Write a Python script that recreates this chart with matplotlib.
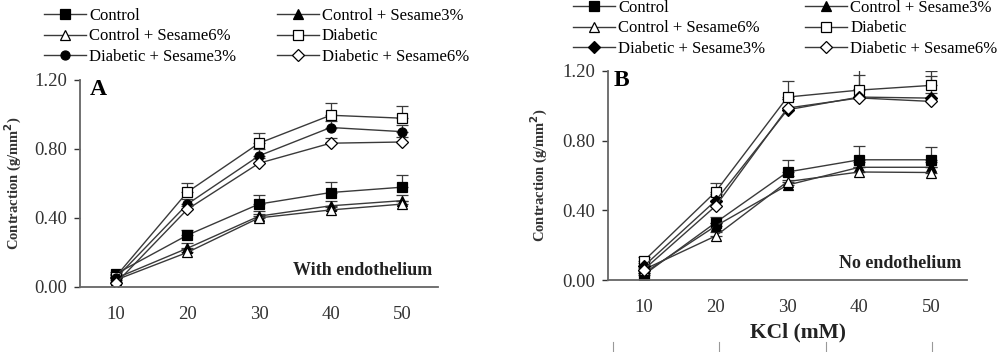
import matplotlib
matplotlib.use('Agg')
import matplotlib.pyplot as plt
from matplotlib.lines import Line2D
import numpy as np

plt.rcParams['font.family'] = ['Liberation Serif', 'DejaVu Serif']

kcl = [10, 20, 30, 40, 50]
series_names = ['Control', 'Control + Sesame3%', 'Control + Sesame6%',
                'Diabetic', 'Diabetic + Sesame3%', 'Diabetic + Sesame6%']

# panel A - with endothelium
a_control = [0.075, 0.30, 0.48, 0.547, 0.578]
a_control_s3 = [0.05, 0.224, 0.41, 0.47, 0.50]
a_control_s6 = [0.04, 0.20, 0.40, 0.446, 0.48]
a_diabetic = [0.06, 0.55, 0.833, 0.995, 0.978]
a_diabetic_s3 = [0.05, 0.48, 0.76, 0.924, 0.90]
a_diabetic_s6 = [0.02, 0.45, 0.717, 0.833, 0.84]
a_err_control = [0.01, 0.03, 0.05, 0.06, 0.07]
a_err_control_s3 = [0.01, 0.03, 0.03, 0.03, 0.03]
a_err_control_s6 = [0.01, 0.02, 0.02, 0.02, 0.02]
a_err_diabetic = [0.01, 0.055, 0.06, 0.07, 0.07]
a_err_diabetic_s3 = [0.01, 0.03, 0.04, 0.04, 0.04]
a_err_diabetic_s6 = [0.01, 0.02, 0.03, 0.03, 0.03]

# panel B - no endothelium
b_control = [0.03, 0.33, 0.62, 0.69, 0.69]
b_control_s3 = [0.04, 0.31, 0.545, 0.647, 0.647]
b_control_s6 = [0.06, 0.253, 0.565, 0.62, 0.617]
b_diabetic = [0.11, 0.507, 1.05, 1.09, 1.117]
b_diabetic_s3 = [0.08, 0.456, 0.977, 1.05, 1.044]
b_diabetic_s6 = [0.06, 0.425, 0.987, 1.045, 1.025]
b_err_control = [0.01, 0.03, 0.07, 0.08, 0.076]
b_err_control_s3 = [0.01, 0.02, 0.03, 0.03, 0.03]
b_err_control_s6 = [0.01, 0.02, 0.03, 0.03, 0.03]
b_err_diabetic = [0.02, 0.05, 0.09, 0.13, 0.08]
b_err_diabetic_s3 = [0.02, 0.04, 0.06, 0.128, 0.126]
b_err_diabetic_s6 = [0.02, 0.03, 0.05, 0.05, 0.05]

yticks = [0.0, 0.4, 0.8, 1.2]

LINE = '#3a3a3a'
TXT = '#333333'


def draw_panel(ax, values, errors, markers, letter, letter_x, note):
    for vals, errs, (mk, fc) in zip(values, errors, markers):
        ax.errorbar(kcl, vals, yerr=[np.zeros(len(errs)), errs], color=LINE,
                    lw=1.0, marker=mk, mfc=fc, mec='black', mew=0.9, ms=6.5,
                    capsize=4.5, elinewidth=0.9, capthick=0.9)
    ax.set_xlim(5, 55)
    ax.set_ylim(0, 1.2)
    ax.set_xticks(kcl)
    ax.set_yticks(yticks)
    ax.set_yticklabels(['%.2f' % v for v in yticks])
    ax.tick_params(axis='x', length=0, pad=14, labelsize=13.5, colors=TXT)
    ax.tick_params(axis='y', length=4, width=1, pad=5, labelsize=13.5, colors=TXT)
    for side in ['top', 'right']:
        ax.spines[side].set_visible(False)
    for side in ['left', 'bottom']:
        ax.spines[side].set_color('#666666')
        ax.spines[side].set_linewidth(1.3)
    ax.set_ylabel('Contraction (g/mm$^\\mathbf{2}$)', fontsize=10.5,
                  fontweight='bold', color=TXT)
    ax.text(letter_x, 0.955, letter, transform=ax.transAxes, fontsize=17,
            fontweight='bold', va='center', ha='left', color='black')
    ax.text(0.985, 0.08, note, transform=ax.transAxes, fontsize=13,
            fontweight='bold', va='center', ha='right', color='#222222')


def add_legend(fig, markers, x, y, colspace):
    handles = [Line2D([], [], color=LINE, lw=1.0, marker=mk, mfc=fc,
                      mec='black', mew=0.9, ms=6.5) for mk, fc in markers]
    order = [0, 2, 4, 1, 3, 5]
    fig.legend([handles[i] for i in order], [series_names[i] for i in order],
               ncol=2, loc='upper left', bbox_to_anchor=(x, y), frameon=False,
               fontsize=12, handlelength=2.5, handletextpad=0.2,
               labelspacing=0.27, columnspacing=colspace, borderpad=0,
               borderaxespad=0)


fig = plt.figure(figsize=(10, 3.52), dpi=100)
ax_a = fig.add_axes([0.080, 0.185, 0.358, 0.588])
ax_b = fig.add_axes([0.608, 0.2045, 0.359, 0.594])

markers_a = [('s', 'black'), ('^', 'black'), ('^', 'white'),
             ('s', 'white'), ('o', 'black'), ('D', 'white')]
markers_b = [('s', 'black'), ('^', 'black'), ('^', 'white'),
             ('s', 'white'), ('D', 'black'), ('D', 'white')]

draw_panel(ax_a,
           [a_control, a_control_s3, a_control_s6, a_diabetic, a_diabetic_s3, a_diabetic_s6],
           [a_err_control, a_err_control_s3, a_err_control_s6, a_err_diabetic,
            a_err_diabetic_s3, a_err_diabetic_s6],
           markers_a, 'A', 0.028, 'With endothelium')
draw_panel(ax_b,
           [b_control, b_control_s3, b_control_s6, b_diabetic, b_diabetic_s3, b_diabetic_s6],
           [b_err_control, b_err_control_s3, b_err_control_s6, b_err_diabetic,
            b_err_diabetic_s3, b_err_diabetic_s6],
           markers_b, 'B', 0.015, 'No endothelium')

ax_a.yaxis.set_label_coords(-0.157, 0.5)
ax_b.yaxis.set_label_coords(-0.161, 0.5)
fig.text(0.798, 1 - 332 / 352, 'KCl (mM)', fontsize=15.5, fontweight='bold',
         color='#222222', ha='center', va='center')

add_legend(fig, markers_a, 0.044, 1 - 8 / 352, 2.45)
add_legend(fig, markers_b, 0.573, 1 + 0 / 352, 2.4)

# small table-rule ticks cut at the bottom of the source image
for xp in [613, 719, 826, 932]:
    fig.add_artist(Line2D([xp / 1000, xp / 1000], [0, 10 / 352], color='#999999',
                          lw=0.8, transform=fig.transFigure))

fig.savefig('out.png', dpi=100, facecolor='white')
